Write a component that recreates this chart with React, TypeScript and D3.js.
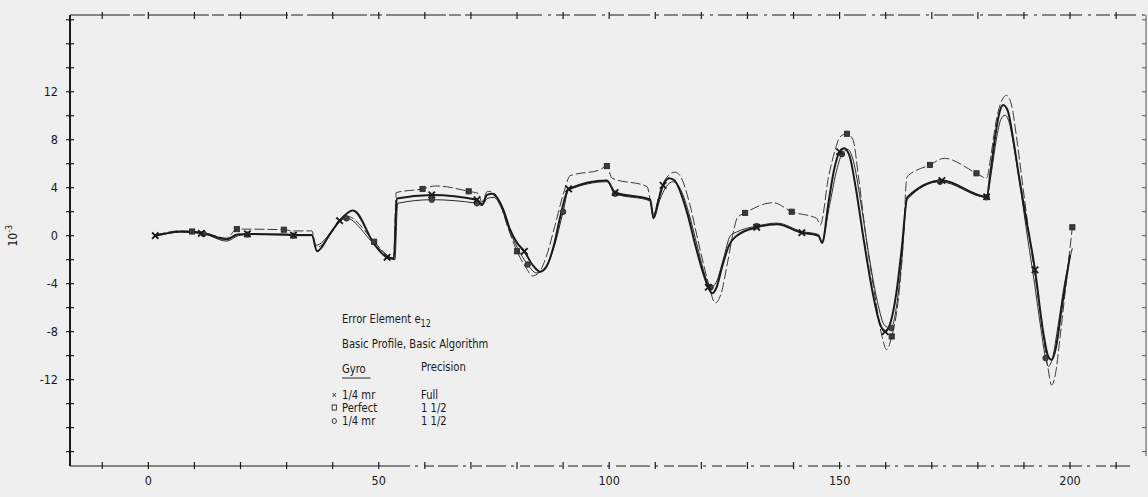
import React from 'react';
import * as d3 from 'd3';

const W = 1148;
const H = 497;

// Axis ticks / labels
const xTicks = d3.range(-10, 211, 10);
const xLabels = [0, 50, 100, 150, 200];
const yTicks = d3.range(-18, 19, 2);
const yLabels = [12, 8, 4, 0, -4, -8, -12];

// Series: "× 1/4 mr, Full"
const seriesFull: [number, number][] = [
  [1.5, 0.0], [4, 0.2], [7, 0.35], [10, 0.3], [12, 0.2], [17, -0.3], [19.3, 0.1], [21.5, 0.15], [30, 0.1], [31.5, 0.05], [35.5, 0.05],
  [36.6, -1.3], [39.5, 0.2], [41.5, 1.25], [44.4, 2.1], [49.2, -0.8], [51.8, -1.8], [53.3, -1.9],
  [53.9, 3.1], [61.5, 3.4], [71.3, 3.0], [72.4, 2.6], [73.5, 3.4], [74.6, 3.5], [75.6, 3.2], [77.0, 2.2], [78.5, 0.5], [80.0, -0.6],
  [81.6, -1.3], [83.3, -2.4], [85, -3.0], [86.5, -2.5], [88, -0.8], [89.4, 1.6], [91.2, 3.9],
  [99.5, 4.6], [101.3, 3.6], [108.9, 3.0], [109.6, 1.5], [110.7, 3.0], [111.7, 4.2], [113.0, 4.8], [114.2, 4.6], [115.5, 3.6],
  [117, 1.8], [118.7, -0.8], [120.3, -3.0], [121.5, -4.3], [122.3, -4.8], [123.3, -4.3], [124.5, -2.6], [126, -0.8], [127.7, 0.0],
  [132, 0.7], [136.4, 0.95], [141.8, 0.25], [145.4, 0.0], [146.2, -0.6], [147.6, 2.8], [148.8, 5.5], [150.0, 7.0], [151.0, 7.3],
  [152.2, 6.6], [153.5, 4.0], [155.3, -0.5], [157.2, -4.8], [158.8, -7.4], [159.9, -8.0], [161.0, -7.3], [162.3, -4.8], [163.5, -1.0],
  [164.7, 3.2], [172.2, 4.6], [181.9, 3.25], [182.8, 5.5], [183.8, 8.4], [184.7, 10.3], [185.5, 10.9], [186.5, 10.4], [187.6, 8.2],
  [188.9, 5.0], [190.2, 2.0], [192.4, -2.85], [194.2, -8.1], [195.2, -10.0], [196.0, -10.35], [196.9, -9.4], [198.2, -6.0], [200.0, -1.6],
];

// Series: "□ Perfect, 1 1/2"
const seriesPerfect: [number, number][] = [
  [1.5, 0.05], [7, 0.4], [9.5, 0.35], [12, 0.25], [17, -0.2], [19.2, 0.55], [29.4, 0.5], [31.5, 0.4], [35.5, 0.4],
  [36.4, -1.0], [43.2, 1.6], [49, -0.5], [52, -1.7], [53.2, -2.0], [53.8, 3.6], [59.5, 3.9], [62.3, 4.15], [69.5, 3.7], [71.7, 3.5],
  [72.3, 2.8], [73.6, 3.7], [74.9, 3.6], [76.3, 2.7], [78, 0.7], [80, -1.3], [82, -2.7], [83.3, -3.35], [84.7, -3.1], [86.3, -1.8],
  [88.2, 0.8], [90.3, 3.8], [91.5, 5.0], [98, 5.5], [99.5, 5.8], [100.6, 4.8], [108.2, 4.1], [109.6, 1.8], [111.3, 4.0], [112.8, 5.0],
  [114.3, 5.3], [115.8, 4.7], [117.5, 2.6], [119.5, -0.8], [121.5, -3.9], [123.0, -5.6], [124.3, -4.8], [125.7, -2.2], [127, 0.4],
  [127.8, 1.5], [129.5, 1.9], [135.6, 2.75], [139.6, 2.0], [145.0, 1.45], [145.8, 0.9], [147.6, 4.9], [149.0, 7.1], [150.1, 8.25],
  [151.6, 8.5], [152.9, 8.0], [154.1, 4.9], [155.9, -0.6], [157.7, -5.1], [159.2, -8.4], [160.2, -9.5], [161.3, -8.4], [162.8, -5.1],
  [163.8, -0.6], [164.6, 4.9], [169.6, 5.9], [172.7, 6.45], [179.7, 5.2], [181.9, 4.8], [182.8, 6.6], [183.8, 9.2], [184.9, 11.0],
  [186.2, 11.7], [187.3, 10.9], [188.4, 8.2], [189.6, 4.6], [191, 0.5], [192.5, -3.6], [194, -7.6], [195.2, -11.0], [196.0, -12.45],
  [196.8, -11.6], [197.8, -8.6], [199, -4.5], [200.5, 0.7],
];

// Series: "○ 1/4 mr, 1 1/2"
const seriesHalf: [number, number][] = [
  [1.5, -0.05], [7, 0.3], [12, 0.15], [17, -0.45], [19.5, 0.0], [21.5, 0.1], [30, 0.05], [31.5, 0.0], [35.5, 0.0],
  [36.3, -0.8], [43.0, 1.45], [49, -0.7], [52.5, -1.8], [53.5, -2.0], [54.1, 2.7], [61.5, 3.0], [71.3, 2.7], [72.4, 2.5],
  [73.5, 3.1], [75, 3.2], [76.5, 2.4], [78.3, 0.5], [80.2, -1.1], [82.3, -2.4], [84.2, -3.1], [86, -2.7], [88, -1.0], [90, 2.0],
  [91.2, 3.8], [99.5, 4.5], [101.3, 3.5], [108.9, 2.9], [109.6, 1.4], [111, 3.0], [112.4, 4.1], [113.8, 4.5], [115.3, 4.0],
  [117.2, 2.0], [119.2, -1.0], [120.8, -3.3], [122.0, -4.3], [123.2, -3.9], [124.8, -1.9], [126.3, 0.0], [127.6, 0.3], [132, 0.8],
  [136.4, 1.05], [141.8, 0.35], [145.4, 0.1], [146.1, -0.5], [147.8, 2.5], [149.2, 5.2], [150.5, 6.8], [151.8, 7.2], [153, 6.2],
  [154.5, 3.0], [156.3, -1.5], [158.2, -5.5], [159.8, -7.5], [161.2, -7.7], [162.3, -6.0], [163.5, -2.0], [164.6, 3.0], [171.8, 4.5],
  [181.9, 3.2], [182.9, 5.2], [184, 8.0], [185, 9.7], [185.9, 10.05], [186.9, 9.3], [188, 7.0], [189.3, 3.8], [190.8, -0.2],
  [192.3, -4.0], [193.7, -7.8], [194.7, -10.2], [195.3, -10.9], [196.2, -10.2], [197.4, -7.5], [198.8, -4.0], [200.5, -1.05],
];

// Marker positions
const markersFull: [number, number][] = [
  [1.5, 0.0], [11.5, 0.2], [21.5, 0.15], [31.5, 0.05], [41.5, 1.25], [51.8, -1.8], [61.5, 3.4], [71.3, 3.0], [81.6, -1.3],
  [91.2, 3.9], [101.3, 3.6], [111.7, 4.2], [121.5, -4.3], [132, 0.7], [141.8, 0.25], [150.0, 7.0], [159.9, -8.0], [172.2, 4.6],
  [181.9, 3.25], [192.4, -2.85],
];
const markersPerfect: [number, number][] = [
  [9.5, 0.35], [19.2, 0.55], [29.4, 0.5], [49, -0.5], [59.5, 3.9], [69.5, 3.7], [80, -1.3], [99.5, 5.8], [129.5, 1.9],
  [139.6, 2.0], [151.6, 8.5], [161.3, -8.4], [169.6, 5.9], [179.7, 5.2], [200.5, 0.7],
];
const markersHalf: [number, number][] = [
  [12, 0.15], [21.5, 0.1], [31.5, 0.0], [43, 1.45], [61.5, 3.0], [71.3, 2.7], [82.3, -2.4], [90, 2.0], [101.3, 3.5],
  [122, -4.3], [132, 0.8], [150.5, 6.8], [161.2, -7.7], [171.8, 4.5], [181.9, 3.2], [194.7, -10.2],
];

const legendTitle = 'Error Element e';
const legendSub = '12';
const legendLine2 = 'Basic Profile, Basic Algorithm';
const legendHead = ['Gyro', 'Precision'];
const legendRows = [
  { sym: 'x', gyro: '1/4 mr', prec: 'Full' },
  { sym: 'square', gyro: 'Perfect', prec: '1 1/2' },
  { sym: 'circle', gyro: '1/4 mr', prec: '1 1/2' },
];

const FONT = "'Liberation Sans Narrow','DejaVu Sans Condensed','Arial Narrow',sans-serif";

const L = 70, R = 1147, T = 15, B = 466;

export default function App() {
  const x = d3.scaleLinear().domain([-17, 216.7]).range([L, R]);
  const y = d3.scaleLinear().domain([-19.2, 18.4]).range([B, T]);
  const line = d3.line<[number, number]>().x(d => x(d[0])).y(d => y(d[1])).curve(d3.curveMonotoneX);

  const ink = '#1a1a1a';

  const markX = (p: [number, number], i: number) => {
    const cx = x(p[0]), cy = y(p[1]), s = 3.2;
    return (
      <g key={'mx' + i} stroke={ink} strokeWidth={1.8}>
        <line x1={cx - s} y1={cy - s} x2={cx + s} y2={cy + s} />
        <line x1={cx - s} y1={cy + s} x2={cx + s} y2={cy - s} />
      </g>
    );
  };
  const markSq = (p: [number, number], i: number) => (
    <rect key={'ms' + i} x={x(p[0]) - 2.6} y={y(p[1]) - 2.6} width={5.2} height={5.2} fill="#3a3a3a" stroke="#222" strokeWidth={0.8} />
  );
  const markCi = (p: [number, number], i: number) => (
    <circle key={'mc' + i} cx={x(p[0])} cy={y(p[1])} r={2.8} fill="#444" stroke="#222" strokeWidth={0.8} />
  );

  const legX = 342;
  const sx = 0.86;
  const pOff = (421 - legX) / sx;
  const rowY = [399, 412, 425];

  return (
    <svg width={W} height={H} style={{ position: 'absolute', left: 0, top: 0, background: '#efefef' }} fontFamily={FONT}>
      {/* frame */}
      <line x1={L} y1={T} x2={L} y2={B} stroke={ink} strokeWidth={2} />
      <line x1={L} y1={B} x2={390} y2={B} stroke={ink} strokeWidth={1.1} />
      <line x1={390} y1={B} x2={1135} y2={B} stroke={ink} strokeWidth={1} strokeDasharray="20,5,3,6,10,4" />
      <line x1={L} y1={T} x2={520} y2={T} stroke={ink} strokeWidth={1.1} strokeDasharray="60,3,12,4" />
      <line x1={520} y1={T} x2={R} y2={T} stroke={ink} strokeWidth={1} strokeDasharray="22,6,3,5,14,4" />
      <line x1={1146} y1={T} x2={1146} y2={B - 10} stroke="#555" strokeWidth={1} />

      {/* x ticks */}
      {xTicks.map(v => (
        <g key={'xt' + v} stroke={ink} strokeWidth={1.2}>
          <line x1={x(v)} y1={B - 4} x2={x(v)} y2={B + 3} />
          <line x1={x(v)} y1={T - 3} x2={x(v)} y2={T + 4} />
        </g>
      ))}
      {xLabels.map(v => (
        <text key={'xl' + v} x={x(v)} y={485} textAnchor="middle" fontSize={12.5} fill={ink}>{v}</text>
      ))}

      {/* y ticks */}
      {yTicks.map(v => (
        <g key={'yt' + v} stroke={ink} strokeWidth={1.2}>
          <line x1={L - 4} y1={y(v)} x2={L + 4} y2={y(v)} />
          <line x1={1146} y1={y(v)} x2={1142} y2={y(v)} stroke="#555" strokeWidth={1} />
        </g>
      ))}
      {yLabels.map(v => (
        <text key={'yl' + v} x={58} y={y(v) + 4.5} textAnchor="end" fontSize={12.5} fill={ink}>{v}</text>
      ))}

      {/* y title */}
      <text transform={`translate(17,${y(0)}) rotate(-90)`} textAnchor="middle" fontSize={12} fill={ink}>
        10<tspan dy={-5} fontSize={9}>-3</tspan>
      </text>

      {/* series */}
      <path d={line(seriesHalf) || ''} fill="none" stroke="#2a2a2a" strokeWidth={1} />
      <path d={line(seriesPerfect) || ''} fill="none" stroke="#3a3a3a" strokeWidth={1} strokeDasharray="10,3" />
      <path d={line(seriesFull) || ''} fill="none" stroke={ink} strokeWidth={2} />

      {markersHalf.map(markCi)}
      {markersPerfect.map(markSq)}
      {markersFull.map(markX)}

      {/* legend */}
      <g fill={ink} fontSize={13} transform={`translate(${legX},0) scale(${sx},1)`}>
        <text x={0} y={323}>{legendTitle}<tspan dy={4} fontSize={10.5}>{legendSub}</tspan></text>
        <text x={0} y={348}>{legendLine2}</text>
        <text x={0} y={373}>{legendHead[0]}</text>
        <line x1={0} y1={378} x2={33} y2={378} stroke={ink} strokeWidth={1} />
        <text x={pOff} y={371}>{legendHead[1]}</text>
        {legendRows.map((r, i) => (
          <g key={'lr' + i}>
            {r.sym === 'x' && (
              <g stroke={ink} strokeWidth={0.9}>
                <line x1={-11} y1={rowY[i] - 6} x2={-7} y2={rowY[i] - 2} />
                <line x1={-11} y1={rowY[i] - 2} x2={-7} y2={rowY[i] - 6} />
              </g>
            )}
            {r.sym === 'square' && (
              <rect x={-11.5} y={rowY[i] - 7} width={5} height={5} fill="none" stroke={ink} strokeWidth={0.9} />
            )}
            {r.sym === 'circle' && (
              <circle cx={-9} cy={rowY[i] - 4} r={2.5} fill="none" stroke={ink} strokeWidth={0.9} />
            )}
            <text x={0} y={rowY[i]}>{r.gyro}</text>
            <text x={pOff} y={rowY[i]}>{r.prec}</text>
          </g>
        ))}
      </g>
    </svg>
  );
}
